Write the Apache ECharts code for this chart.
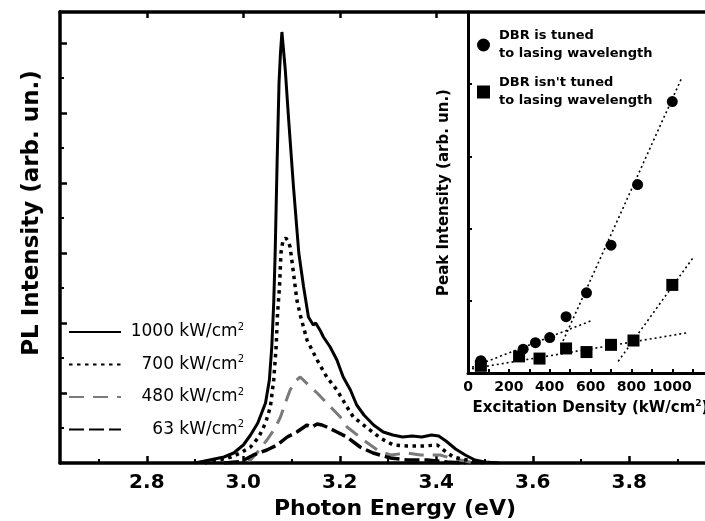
<!DOCTYPE html>
<html>
<head>
<meta charset="utf-8">
<script src="https://cdn.jsdelivr.net/npm/echarts@6/dist/echarts.min.js"></script>
<style>
html, body { margin: 0; padding: 0; background: #fff; }
#chart { width: 705px; height: 521px; }
</style>
</head>
<body>
<div id="chart"></div>
<script>
// main panel: PL spectra, photon energy (eV) vs intensity (arb. un.)
const energy1000 = [2.90, 2.93, 2.96, 2.98, 3.00, 3.015, 3.03, 3.046, 3.054, 3.059, 3.063, 3.066, 3.070, 3.074, 3.077, 3.080, 3.087, 3.094, 3.104, 3.115, 3.125, 3.135, 3.145, 3.150, 3.155, 3.160, 3.166, 3.180, 3.194, 3.207, 3.222, 3.235, 3.250, 3.270, 3.290, 3.310, 3.330, 3.350, 3.370, 3.390, 3.405, 3.420, 3.440, 3.460, 3.480, 3.500, 3.530];
const pl1000 = [0, 3, 6, 10, 18, 28, 40, 60, 83, 116, 160, 210, 300, 380, 410, 431, 393, 343, 276, 210, 176, 146, 138, 140, 136, 132, 126, 116, 103, 86, 73, 58, 48, 38, 31, 28, 26, 27, 26, 28, 27, 22, 14, 8, 3, 1, 0];

const energy700 = [2.92, 2.95, 2.975, 2.994, 3.015, 3.032, 3.046, 3.056, 3.063, 3.068, 3.071, 3.075, 3.078, 3.082, 3.088, 3.093, 3.097, 3.104, 3.111, 3.118, 3.132, 3.153, 3.173, 3.194, 3.215, 3.228, 3.257, 3.284, 3.311, 3.340, 3.373, 3.402, 3.415, 3.435, 3.464, 3.50];
const pl700 = [0, 3, 6, 10, 16, 26, 40, 56, 83, 116, 150, 176, 210, 222, 225, 222, 216, 190, 163, 148, 123, 103, 86, 73, 56, 46, 35, 25, 18, 17, 17, 18, 13, 6, 3, 0];

const energy480 = [2.96, 2.994, 3.015, 3.028, 3.049, 3.066, 3.077, 3.087, 3.097, 3.108, 3.118, 3.135, 3.153, 3.173, 3.201, 3.215, 3.249, 3.278, 3.305, 3.340, 3.367, 3.408, 3.429, 3.450, 3.48];
const pl480 = [0, 2, 3, 10, 23, 35, 46, 60, 73, 82, 86, 78, 70, 60, 46, 36, 23, 13, 8, 10, 8, 8, 5, 3, 0];

const energy63 = [2.96, 2.994, 3.021, 3.049, 3.070, 3.091, 3.111, 3.132, 3.142, 3.153, 3.163, 3.173, 3.194, 3.215, 3.242, 3.269, 3.305, 3.340, 3.381, 3.423, 3.46];
const pl63 = [0, 1, 8, 13, 18, 26, 31, 38, 36, 39, 38, 36, 31, 26, 16, 10, 5, 3, 3, 1, 0];

const curveNames = ['1000 kW/cm²', '700 kW/cm²', '480 kW/cm²', '63 kW/cm²'];

// inset: peak intensity vs excitation density (kW/cm2)
const tunedDensity = [63, 270, 330, 400, 480, 580, 700, 830, 1000];
const tunedPeak = [0.17, 0.33, 0.42, 0.49, 0.78, 1.11, 1.77, 2.61, 3.76];
const untunedDensity = [63, 250, 350, 480, 580, 700, 810, 1000];
const untunedPeak = [0.10, 0.23, 0.20, 0.34, 0.29, 0.39, 0.45, 1.22];

// dotted guide lines (end points)
const fitTunedLowX = [20, 600], fitTunedLowY = [0.08, 0.72];
const fitTunedHighX = [455, 1045], fitTunedHighY = [0.38, 4.08];
const fitUntunedLowX = [20, 1080], fitUntunedLowY = [0.06, 0.56];
const fitUntunedHighX = [735, 1105], fitUntunedHighY = [0.16, 1.61];

const tunedName = 'DBR is tuned\nto lasing wavelength';
const untunedName = "DBR isn't tuned\nto lasing wavelength";

// ticks
const energyLabels = [2.8, 3.0, 3.2, 3.4, 3.6, 3.8];
const energyMinor = [2.7, 2.9, 3.1, 3.3, 3.5, 3.7, 3.9];
const energyTop = [2.8, 3.0, 3.2, 3.4];
const intensityMajor = [70, 140, 210, 280, 350, 420];
const intensityMinor = [35, 105, 175, 245, 315, 385];
const densityLabels = [0, 200, 400, 600, 800, 1000];
const densityTicks = [100, 200, 300, 400, 500, 600, 700, 800, 900, 1000, 1100];
const peakTicks = [1, 2, 3, 4];

const FONT = 'DejaVu Sans';
const pairs = (xs, ys) => xs.map((x, i) => [x, ys[i]]);

const black = '#000';
const axisLine = { show: true, lineStyle: { color: black, width: 3.5 } };
const noLine = { show: false };

const chart = echarts.init(document.getElementById('chart'));

chart.setOption({
  animation: false,
  backgroundColor: '#fff',
  grid: [
    { left: 60, top: 12, right: 0, bottom: 58, outerBoundsMode: 'none', containLabel: false },
    { left: 468, top: 12, right: 0, bottom: 148, outerBoundsMode: 'none', containLabel: false }
  ],
  xAxis: [
    {
      type: 'value', gridIndex: 0, position: 'bottom', min: 2.62, max: 3.957,
      axisLine: axisLine,
      axisTick: { show: true, inside: true, length: 7, customValues: energyLabels, lineStyle: { color: black, width: 2.5 } },
      axisLabel: {
        show: true, customValues: energyLabels, margin: 10,
        formatter: v => v.toFixed(1),
        fontFamily: FONT, fontWeight: 'bold', fontSize: 20, color: black
      },
      splitLine: { show: false },
      name: 'Photon Energy (eV)', nameLocation: 'middle', nameGap: 31,
      nameTextStyle: { fontFamily: FONT, fontWeight: 'bold', fontSize: 22, color: black, padding: [0, 0, 0, 25] }
    },
    {
      type: 'value', gridIndex: 0, position: 'bottom', min: 2.62, max: 3.957,
      axisLine: noLine,
      axisTick: { show: true, inside: true, length: 4, customValues: energyMinor, lineStyle: { color: black, width: 2 } },
      axisLabel: { show: false },
      splitLine: { show: false }
    },
    {
      type: 'value', gridIndex: 0, position: 'top', min: 2.62, max: 3.957,
      axisLine: axisLine,
      axisTick: { show: true, inside: true, length: 6, customValues: energyTop, lineStyle: { color: black, width: 2.5 } },
      axisLabel: { show: false },
      splitLine: { show: false }
    },
    {
      type: 'value', gridIndex: 1, position: 'bottom', min: 0, max: 1160,
      axisLine: { show: true, lineStyle: { color: black, width: 3 } },
      axisTick: { show: true, inside: true, length: 4, customValues: densityTicks, lineStyle: { color: black, width: 2 } },
      axisLabel: {
        show: true, customValues: densityLabels, margin: 7,
        formatter: v => String(v),
        fontFamily: FONT, fontWeight: 'bold', fontSize: 14, color: black
      },
      splitLine: { show: false },
      name: '{t|Excitation Density (kW/cm}{s|2}{t|)}', nameLocation: 'middle', nameGap: 26,
      nameTextStyle: {
        padding: [0, 0, 0, 8],
        rich: {
          t: { fontFamily: FONT, fontWeight: 'bold', fontSize: 15, color: black, lineHeight: 18 },
          s: { fontFamily: FONT, fontWeight: 'bold', fontSize: 9, color: black, verticalAlign: 'top' }
        }
      }
    }
  ],
  yAxis: [
    {
      type: 'value', gridIndex: 0, position: 'left', min: 0, max: 451,
      axisLine: axisLine,
      axisTick: { show: true, inside: true, length: 7, customValues: intensityMajor, lineStyle: { color: black, width: 2.5 } },
      axisLabel: { show: false },
      splitLine: { show: false },
      name: 'PL Intensity (arb. un.)', nameLocation: 'middle', nameGap: 16,
      nameTextStyle: { fontFamily: FONT, fontWeight: 'bold', fontSize: 23, color: black, padding: [0, 0, 0, 49] }
    },
    {
      type: 'value', gridIndex: 0, position: 'left', min: 0, max: 451,
      axisLine: noLine,
      axisTick: { show: true, inside: true, length: 4, customValues: intensityMinor, lineStyle: { color: black, width: 2 } },
      axisLabel: { show: false },
      splitLine: { show: false }
    },
    {
      type: 'value', gridIndex: 1, position: 'left', min: 0, max: 5,
      axisLine: { show: true, lineStyle: { color: black, width: 3 } },
      axisTick: { show: true, inside: true, length: 4, customValues: peakTicks, lineStyle: { color: black, width: 2 } },
      axisLabel: { show: false },
      splitLine: { show: false },
      name: 'Peak Intensity (arb. un.)', nameLocation: 'middle', nameGap: 16,
      nameTextStyle: { fontFamily: FONT, fontWeight: 'bold', fontSize: 15, color: black }
    }
  ],
  legend: [
    {
      data: curveNames, orient: 'vertical', left: 68, top: 322, padding: 0,
      itemWidth: 52, itemHeight: 14, itemGap: 14, selectedMode: false,
      itemStyle: { opacity: 0 },
      formatter: name => '{t|' + name.replace('²', '') + '}{s|2}',
      textStyle: {
        width: 118,
        rich: {
          t: { fontFamily: FONT, fontSize: 17, color: black, align: 'right', lineHeight: 20 },
          s: { fontFamily: FONT, fontSize: 10, color: black, align: 'right', verticalAlign: 'top' }
        }
      }
    },
    {
      data: [tunedName, untunedName], orient: 'vertical', left: 477, top: 27, padding: 0,
      itemWidth: 13, itemHeight: 13, itemGap: 11, selectedMode: false,
      itemStyle: { opacity: 1 },
      textStyle: { fontFamily: FONT, fontWeight: 'bold', fontSize: 13, lineHeight: 18, color: black, padding: [0, 0, 0, 4] }
    }
  ],
  series: [
    {
      name: curveNames[0], type: 'line', xAxisIndex: 0, yAxisIndex: 0, symbol: 'none', silent: true, z: 5,
      data: pairs(energy1000, pl1000),
      itemStyle: { color: black },
      lineStyle: { color: black, width: 3 }
    },
    {
      name: curveNames[1], type: 'line', xAxisIndex: 0, yAxisIndex: 0, symbol: 'none', silent: true, z: 4,
      data: pairs(energy700, pl700),
      itemStyle: { color: black },
      lineStyle: { color: black, width: 3.5, type: [3.5, 4.5], cap: 'butt' }
    },
    {
      name: curveNames[2], type: 'line', xAxisIndex: 0, yAxisIndex: 0, symbol: 'none', silent: true, z: 3,
      data: pairs(energy480, pl480),
      itemStyle: { color: '#7a7a7a' },
      lineStyle: { color: '#7a7a7a', width: 3, type: [15, 9] }
    },
    {
      name: curveNames[3], type: 'line', xAxisIndex: 0, yAxisIndex: 0, symbol: 'none', silent: true, z: 3,
      data: pairs(energy63, pl63),
      itemStyle: { color: black },
      lineStyle: { color: black, width: 3.5, type: [15, 5] }
    },
    {
      type: 'line', xAxisIndex: 3, yAxisIndex: 2, symbol: 'none', silent: true,
      data: pairs(fitTunedLowX, fitTunedLowY),
      lineStyle: { color: black, width: 1.6, type: [2, 3] }
    },
    {
      type: 'line', xAxisIndex: 3, yAxisIndex: 2, symbol: 'none', silent: true,
      data: pairs(fitTunedHighX, fitTunedHighY),
      lineStyle: { color: black, width: 1.6, type: [2, 3] }
    },
    {
      type: 'line', xAxisIndex: 3, yAxisIndex: 2, symbol: 'none', silent: true,
      data: pairs(fitUntunedLowX, fitUntunedLowY),
      lineStyle: { color: black, width: 1.6, type: [2, 3] }
    },
    {
      type: 'line', xAxisIndex: 3, yAxisIndex: 2, symbol: 'none', silent: true,
      data: pairs(fitUntunedHighX, fitUntunedHighY),
      lineStyle: { color: black, width: 1.6, type: [2, 3] }
    },
    {
      name: tunedName, type: 'scatter', xAxisIndex: 3, yAxisIndex: 2, symbol: 'circle', symbolSize: 11,
      data: pairs(tunedDensity, tunedPeak),
      itemStyle: { color: black, opacity: 1 }
    },
    {
      name: untunedName, type: 'scatter', xAxisIndex: 3, yAxisIndex: 2, symbol: 'rect', symbolSize: 12,
      data: pairs(untunedDensity, untunedPeak),
      itemStyle: { color: black, opacity: 1 }
    }
  ]
});
</script>
</body>
</html>
